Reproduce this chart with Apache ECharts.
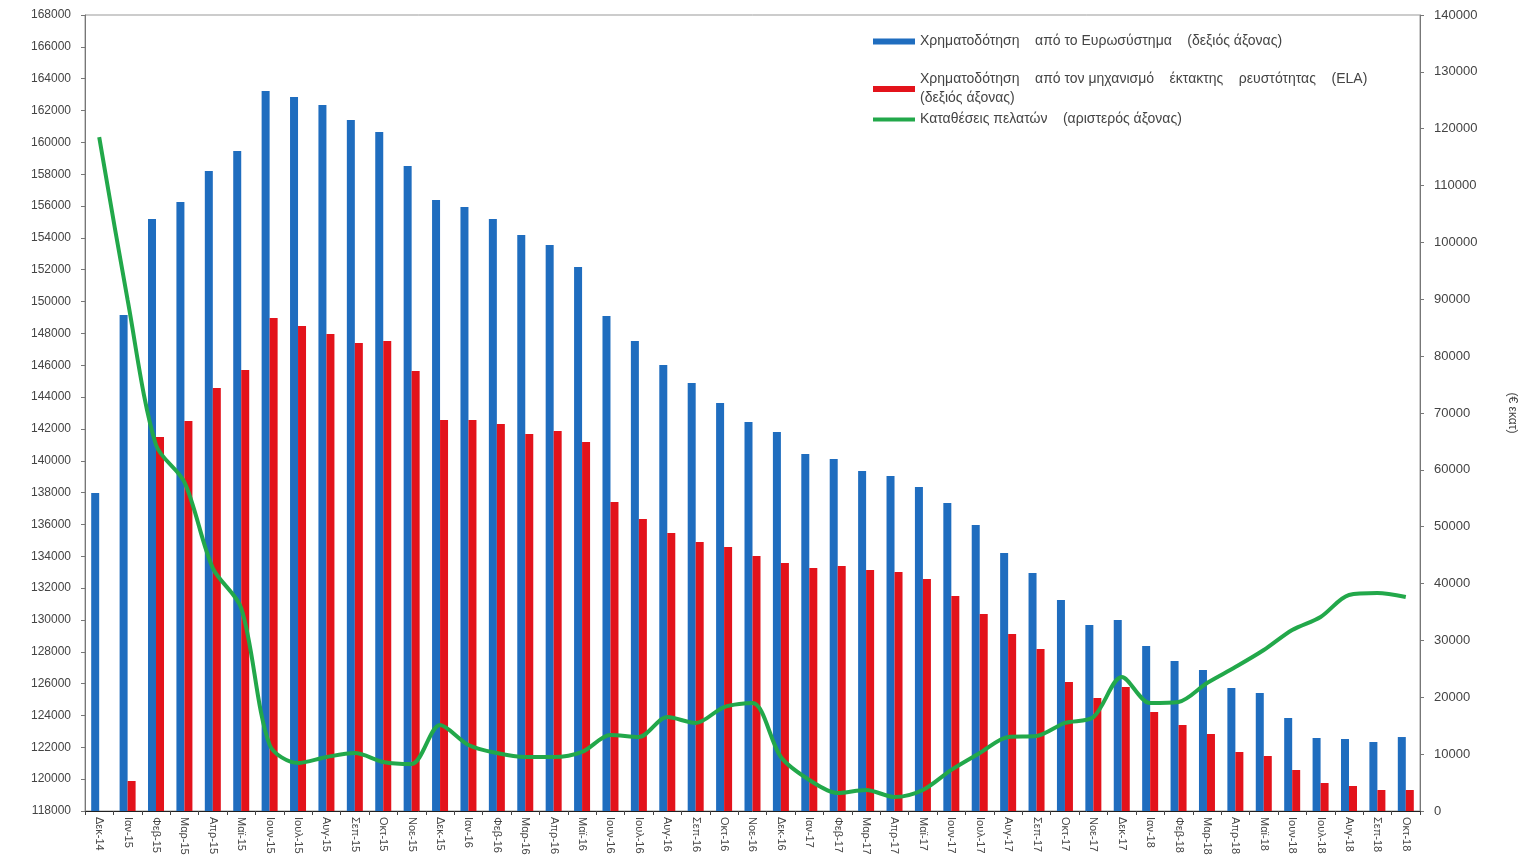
<!DOCTYPE html>
<html>
<head>
<meta charset="utf-8">
<script src="https://cdn.jsdelivr.net/npm/echarts@6/dist/echarts.min.js"></script>
<style>
html,body{margin:0;padding:0;background:#fff;}
#chart{width:1527px;height:864px;}
</style>
</head>
<body>
<div id="chart"></div>
<script>
const categories = ["Δεκ-14","Ιαν-15","Φεβ-15","Μαρ-15","Απρ-15","Μαϊ-15","Ιουν-15","Ιουλ-15","Αυγ-15","Σεπ-15","Οκτ-15","Νοε-15",
"Δεκ-15","Ιαν-16","Φεβ-16","Μαρ-16","Απρ-16","Μαϊ-16","Ιουν-16","Ιουλ-16","Αυγ-16","Σεπ-16","Οκτ-16","Νοε-16",
"Δεκ-16","Ιαν-17","Φεβ-17","Μαρ-17","Απρ-17","Μαϊ-17","Ιουν-17","Ιουλ-17","Αυγ-17","Σεπ-17","Οκτ-17","Νοε-17",
"Δεκ-17","Ιαν-18","Φεβ-18","Μαρ-18","Απρ-18","Μαϊ-18","Ιουν-18","Ιουλ-18","Αυγ-18","Σεπ-18","Οκτ-18"];

const eurosystem = [55930,87240,104120,107110,112560,116080,126630,125580,124170,121530,119420,113440,
107460,106230,104120,101310,99550,95680,87060,82660,78440,75280,71760,68420,
66660,62790,61910,59800,58920,56990,54170,50300,45380,41860,37110,32710,
33590,29020,26380,24800,21630,20750,16360,12840,12660,12140,13010];

const ela = [0,5280,65780,68590,74400,77560,86710,85300,83890,82310,82660,77390,
68770,68770,68070,66310,66830,64900,54350,51360,48900,47310,46430,44850,
43620,42740,43090,42390,42040,40800,37810,34650,31130,28490,22690,19870,
21810,17410,15130,13540,10380,9670,7210,4920,4400,3690,3690];

const deposits = [160330,150100,140990,138660,133260,130750,122150,121010,121390,121640,121080,120950,
123400,122150,121640,121390,121390,121710,122770,122650,123900,123530,124530,124780,
121390,119950,119130,119320,118880,119320,120580,121640,122650,122710,123530,123900,
126420,124780,124850,126040,127040,128110,129370,130190,131570,131690,131440];

const seriesNames = [
  "Χρηματοδότηση    από το Ευρωσύστημα    (δεξιός άξονας)",
  "Χρηματοδότηση    από τον μηχανισμό    έκτακτης    ρευστότητας    (ELA)\n(δεξιός άξονας)",
  "Καταθέσεις πελατών    (αριστερός άξονας)"
];

const BLUE = '#1f6dbf', RED = '#e3131b', GREEN = '#22a84a';
const FONT = 'Liberation Sans, Arial, sans-serif';
const legendText = {color:'#444', fontSize:14, fontFamily:FONT, lineHeight:19};
const plain = v => String(v);

const chart = echarts.init(document.getElementById('chart'), null, {renderer:'canvas'});
chart.setOption({
  animation:false,
  backgroundColor:'#fff',
  grid:{left:85, right:107, top:15, bottom:53, show:true, borderColor:'#999', borderWidth:1},
  legend:[
    {data:[seriesNames[0]], left:868, top:27, orient:'vertical', icon:'rect', itemWidth:42, itemHeight:6, textStyle:legendText, itemGap:0},
    {data:[seriesNames[1]], left:868, top:65, orient:'vertical', icon:'rect', itemWidth:42, itemHeight:6, textStyle:legendText, itemGap:0},
    {data:[seriesNames[2]], left:868, top:105, orient:'vertical', icon:'rect', itemWidth:42, itemHeight:4, textStyle:legendText, itemGap:0}
  ],
  xAxis:{
    type:'category', data:categories, boundaryGap:true,
    axisLine:{lineStyle:{color:'#222', width:1}},
    axisTick:{show:true, alignWithLabel:false, length:4, lineStyle:{color:'#444'}},
    axisLabel:{rotate:-90, interval:0, fontSize:11, color:'#444', fontFamily:FONT, margin:6}
  },
  yAxis:[
    {type:'value', position:'left', min:118000, max:168000, interval:2000,
     axisLine:{show:true, lineStyle:{color:'#777'}},
     axisTick:{show:true, length:4, lineStyle:{color:'#777'}},
     splitLine:{show:false},
     axisLabel:{fontSize:12, color:'#444', fontFamily:FONT, margin:14, formatter:plain}},
    {type:'value', position:'right', min:0, max:140000, interval:10000,
     name:'(€ εκατ)', nameLocation:'middle', nameGap:86, nameRotate:-90,
     nameTextStyle:{fontSize:12, color:'#444', fontFamily:FONT},
     axisLine:{show:true, lineStyle:{color:'#777'}},
     axisTick:{show:true, length:4, lineStyle:{color:'#777'}},
     splitLine:{show:false},
     axisLabel:{fontSize:13, color:'#444', fontFamily:FONT, margin:14, formatter:plain}}
  ],
  series:[
    {name:seriesNames[0], type:'bar', yAxisIndex:1, data:eurosystem, barWidth:8, barGap:'0%',
     itemStyle:{color:BLUE}, z:2},
    {name:seriesNames[1], type:'bar', yAxisIndex:1, data:ela, barWidth:8, barGap:'0%',
     itemStyle:{color:RED}, z:2},
    {name:seriesNames[2], type:'line', yAxisIndex:0, data:deposits, smooth:0.3,
     showSymbol:false, symbol:'none', lineStyle:{color:GREEN, width:4}, itemStyle:{color:GREEN}, z:5}
  ]
});
</script>
</body>
</html>
